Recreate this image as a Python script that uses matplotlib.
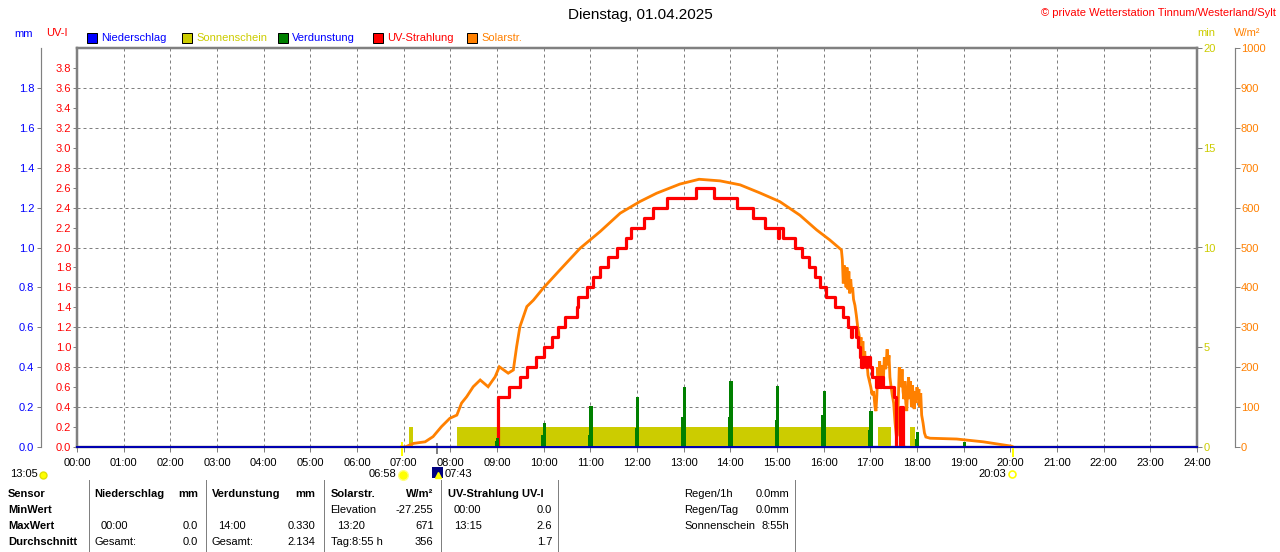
import matplotlib
matplotlib.use('Agg')
import matplotlib.pyplot as plt
import matplotlib.transforms as mtransforms
from matplotlib.patches import Rectangle
import numpy as np

plt.rcParams['font.family'] = ['Liberation Sans', 'DejaVu Sans']
plt.rcParams['font.size'] = 8

# ---------------------------------------------------------------------------
# Data (hours of the day)
# ---------------------------------------------------------------------------
hours = np.arange(0, 25)
hour_labels = [f'{h:02d}:00' for h in hours]

# UV index (step curve, value valid from time onwards)
uv_t = [9.00, 9.02, 9.26, 9.49, 9.65, 9.84, 10.00, 10.17, 10.31, 10.46, 10.72, 10.74,
        10.92, 11.06, 11.21, 11.38, 11.58, 11.76, 11.88, 12.14, 12.35, 12.65, 13.26,
        13.64, 14.15, 14.49, 14.74, 15.02, 15.05, 15.13, 15.38, 15.53, 15.69, 15.81,
        15.93, 16.06, 16.24, 16.41, 16.53, 16.58, 16.61, 16.69, 16.74, 16.78, 16.81,
        16.84, 16.90, 16.93, 16.99, 17.03, 17.13, 17.16, 17.20, 17.23, 17.28, 17.50,
        17.56, 17.64, 17.70, 17.72]
uv_v = [0.0, 0.5, 0.6, 0.7, 0.8, 0.9, 1.0, 1.1, 1.2, 1.3, 1.4, 1.5,
        1.6, 1.7, 1.8, 1.9, 2.0, 2.1, 2.2, 2.3, 2.4, 2.5, 2.6,
        2.5, 2.4, 2.3, 2.2, 2.1, 2.2, 2.1, 2.0, 1.9, 1.8, 1.7,
        1.6, 1.5, 1.4, 1.3, 1.2, 1.1, 1.2, 1.1, 1.0, 0.9, 0.8,
        0.9, 0.8, 0.9, 0.8, 0.7, 0.6, 0.7, 0.6, 0.7, 0.6, 0.5,
        0.0, 0.4, 0.0, 0.0]

# Solar radiation W/m2
sol_t = [6.95, 7.03, 7.21, 7.46, 7.63, 7.81, 7.99, 8.14, 8.24, 8.35, 8.49, 8.64, 8.81,
         8.96, 9.05, 9.24, 9.35, 9.42, 9.49, 9.64, 9.78, 9.99, 10.35, 10.78, 11.21,
         11.64, 12.06, 12.42, 12.92, 13.33, 13.78, 14.21, 14.63, 15.06, 15.49, 15.85,
         16.13, 16.38, 16.40, 16.42, 16.44, 16.46, 16.48, 16.50, 16.52, 16.54, 16.56,
         16.58, 16.60, 16.62, 16.64, 16.67, 16.70, 16.73, 16.76, 16.78, 16.80, 16.82,
         16.84, 16.86, 16.88, 16.90, 16.92, 16.95, 16.98, 17.01, 17.04, 17.07, 17.10,
         17.12, 17.14, 17.16, 17.18, 17.20, 17.22, 17.25, 17.28, 17.30, 17.33, 17.36,
         17.38, 17.40, 17.42, 17.44, 17.47, 17.50, 17.53, 17.56, 17.58, 17.60, 17.62,
         17.64, 17.66, 17.68, 17.70, 17.72, 17.74, 17.76, 17.78, 17.80, 17.82, 17.84,
         17.86, 17.88, 17.90, 17.92, 17.94, 17.96, 17.98, 18.00, 18.02, 18.04, 18.06,
         18.08, 18.10, 18.13, 18.16, 18.19, 18.28, 18.85, 19.42, 20.03, 20.06]
sol_w = [0, 0, 9, 13, 26, 51, 72, 80, 110, 126, 151, 168, 151,
         176, 201, 185, 193, 251, 301, 352, 368, 398, 444, 498, 540,
         586, 615, 636, 659, 671, 667, 657, 637, 615, 581, 544,
         519, 494, 470, 410, 455, 430, 400, 450, 395, 440, 385,
         420, 390, 400, 370, 355, 330, 300, 280, 250, 275, 225,
         265, 215, 240, 200, 225, 180, 165, 150, 130, 140, 100,
         90, 130, 200, 170, 215, 175, 205, 170, 225, 195, 245,
         205, 230, 175, 155, 130, 110, 60, 25, 30, 120, 200,
         185, 150, 195, 140, 120, 165, 110, 90, 145, 175, 120,
         165, 100, 155, 130, 95, 140, 110, 150, 120, 145, 100,
         135, 80, 60, 35, 25, 22, 20, 13, 2, 0]

# Sunshine minutes (blocks)
sun_start = [7.12, 8.15, 17.17, 17.62, 17.86]
sun_end = [7.19, 16.98, 17.44, 17.66, 17.96]
sun_min = [1.0, 1.0, 1.0, 1.0, 1.0]

# Evaporation mm (hourly spikes)
evap_t = np.arange(9, 20)
evap_peak = [0.045, 0.12, 0.205, 0.25, 0.30, 0.33, 0.305, 0.28, 0.18, 0.077, 0.025]
evap_shoulder = [0.03, 0.06, 0.06, 0.095, 0.15, 0.15, 0.135, 0.16, 0.085, 0.04, 0.0]

# Precipitation mm
rain_t = [0, 24]
rain_v = [0.0, 0.0]

GRAY = '#808080'
YEL = '#CCCC00'
ORA = '#FF8000'
RED = '#FF0000'
BLUE = '#0000FF'
GREEN = '#008000'
PT = 0.72  # one pixel in points

# ---------------------------------------------------------------------------
fig = plt.figure(figsize=(12.8, 5.52), dpi=100)
fig.patch.set_facecolor('white')

L, B, W, H = 77 / 1280, 1 - 447 / 552, 1120 / 1280, 399 / 552
ax = fig.add_axes([L, B, W, H])
ax_sun = ax.twinx()
ax_sol = ax.twinx()
ax_uv = ax.twinx()
ax_mm = ax.twinx()

# base axes: grid, UV scale
ax.set_xlim(0, 24)
ax.set_ylim(0, 4.0)
ax.set_xticks(hours)
ax.set_xticklabels(hour_labels)
ax.set_yticks(np.arange(0, 3.7, 0.4))
ax.set_yticks(np.arange(0.2, 3.9, 0.4), minor=True)
fmt = matplotlib.ticker.FuncFormatter(lambda v, p: f'{v:.1f}')
ax.yaxis.set_major_formatter(fmt)
ax.yaxis.set_minor_formatter(fmt)
ax.tick_params(axis='y', which='both', colors=GRAY, labelcolor=RED, length=4.5 * PT,
               width=PT, pad=1, labelsize=8)
ax.tick_params(axis='x', colors=GRAY, labelcolor='black', length=5 * PT, width=PT,
               pad=4.5, labelsize=8)
ax.grid(True, which='major', color=GRAY, linestyle=(0, (3, 3)), linewidth=PT)
for s in ax.spines.values():
    s.set_color(GRAY)
    s.set_linewidth(2.5 * PT)

# sunshine minutes axis (right, on frame)
ax_sun.set_ylim(0, 20)
ax_sun.set_yticks([0, 5, 10, 15, 20])
ax_sun.tick_params(axis='y', colors=GRAY, labelcolor=YEL, length=5 * PT, width=PT,
                   pad=1, labelsize=8)
ax_sun.bar(sun_start, sun_min, width=np.array(sun_end) - np.array(sun_start),
           align='edge', color=YEL, linewidth=0)

# solar axis (right, offset)
ax_sol.set_ylim(0, 1000)
ax_sol.set_yticks(np.arange(0, 1001, 100))
ax_sol.spines['right'].set_position(('axes', 1 + (1234.5 - 1197) / 1120))
ax_sol.spines['right'].set_color(GRAY)
ax_sol.spines['right'].set_linewidth(1.2 * PT)
ax_sol.tick_params(axis='y', colors=GRAY, labelcolor=ORA, length=5 * PT, width=PT,
                   pad=1, labelsize=8)
ax_sol.plot(sol_t, sol_w, color=ORA, linewidth=2.8 * PT, solid_joinstyle='miter')

# UV line
ax_uv.set_ylim(0, 4.0)
ax_uv.set_yticks([])
ax_uv.step(uv_t, uv_v, where='post', color=RED, linewidth=3.2 * PT)

# mm axis (left, offset)
ax_mm.set_ylim(0, 2.0)
ax_mm.set_yticks(np.arange(0, 1.9, 0.2))
ax_mm.yaxis.set_major_formatter(fmt)
ax_mm.yaxis.tick_left()
ax_mm.spines['left'].set_position(('axes', (40.7 - 77) / 1120))
ax_mm.spines['left'].set_visible(True)
ax_mm.spines['left'].set_color(GRAY)
ax_mm.spines['left'].set_linewidth(1.2 * PT)
ax_mm.tick_params(axis='y', colors=GRAY, labelcolor=BLUE, length=4.5 * PT, width=PT,
                  pad=1.5, labelsize=8)
ax_mm.bar(evap_t - 0.05, evap_shoulder, width=0.065, align='edge', color=GREEN,
          linewidth=0)
ax_mm.bar(evap_t - 0.02, evap_peak, width=0.07, align='edge', color=GREEN, linewidth=0)
ax_mm.plot(rain_t, rain_v, color='#0000B0', linewidth=2 * PT, clip_on=False)

for a in (ax_sun, ax_sol, ax_uv, ax_mm):
    a.patch.set_visible(False)
    for name, s in a.spines.items():
        if not ((a is ax_sol and name == 'right') or (a is ax_mm and name == 'left')):
            s.set_visible(False)

# sunrise / sunset markers below the axis
trans = mtransforms.blended_transform_factory(ax.transData, ax.transAxes)
ax.plot([6.967, 6.967], [4 / 399, -8 / 399], color='#FFFF00', lw=2 * PT,
        transform=trans, clip_on=False, zorder=5)
ax.plot([7.717, 7.717], [3 / 399, -6 / 399], color=GRAY, lw=2 * PT,
        transform=trans, clip_on=False, zorder=5)
ax.plot([20.05, 20.05], [0, -9 / 399], color='#FFFF00', lw=2 * PT,
        transform=trans, clip_on=False, zorder=5)

# ---------------------------------------------------------------------------
# decoration layer in pixel coordinates
deco = fig.add_axes([0, 0, 1, 1])
deco.set_xlim(0, 1280)
deco.set_ylim(552, 0)
deco.axis('off')
deco.patch.set_visible(False)

deco.text(640, 15, 'Dienstag, 01.04.2025', fontsize=11, ha='center', va='center')
deco.text(1276, 12.5, '\u00a9 private Wetterstation Tinnum/Westerland/Sylt', color=RED,
          fontsize=8, ha='right', va='center')
deco.text(14, 34, 'mm', color=BLUE, va='center')
deco.text(46, 33, 'UV-I', color=RED, va='center')
deco.text(1197, 33, 'min', color=YEL, va='center')
deco.text(1234, 33, 'W/m\u00b2', color=ORA, va='center')

legend_items = [(87, BLUE, 'Niederschlag', BLUE), (182, YEL, 'Sonnenschein', YEL),
                (277.5, GREEN, 'Verdunstung', BLUE), (372.5, RED, 'UV-Strahlung', RED),
                (467, ORA, 'Solarstr.', ORA)]
for x0, fc, label, tc in legend_items:
    deco.add_patch(Rectangle((x0, 32.5), 10, 10, facecolor=fc, edgecolor='black',
                             linewidth=PT))
    deco.text(x0 + 14.5, 38, label, color=tc, va='center')

# sun times below x axis
deco.text(10, 474, '13:05', va='center')
deco.plot([43], [475], marker='o', ms=5, color='#FFFF00', mec='#E0E000')
deco.text(369, 474, '06:58', va='center')
deco.plot([403], [475], marker='o', ms=7, color='#FFFF00', mec='#FFFF80')
deco.add_patch(Rectangle((432, 467), 11, 11, facecolor='#000080', edgecolor='none'))
deco.plot([437.5], [475], marker='^', ms=4, color='#FFFF00')
deco.text(445, 474, '07:43', va='center')
deco.text(1006.5, 474, '20:03', va='center', ha='right')
deco.plot([1012], [474], marker='o', ms=5, mfc='white', mec='#FFFF00', mew=1.2)

# summary table
for xs in (88.6, 205.5, 323.7, 440.8, 558.4, 795):
    deco.plot([xs, xs], [480, 552], color=GRAY, lw=PT)

rows = [494, 510, 526, 542]
for y, lab in zip(rows, ['Sensor', 'MinWert', 'MaxWert', 'Durchschnitt']):
    deco.text(8, y, lab, fontweight='bold', va='center')

cells = [
    (94.7, rows[0], 'Niederschlag', 'left', True), (198, rows[0], 'mm', 'right', True),
    (101, rows[2], '00:00', 'left', False), (198, rows[2], '0.0', 'right', False),
    (94.7, rows[3], 'Gesamt:', 'left', False), (198, rows[3], '0.0', 'right', False),
    (212, rows[0], 'Verdunstung', 'left', True), (315.5, rows[0], 'mm', 'right', True),
    (218, rows[2], '14:00', 'left', False), (315.5, rows[2], '0.330', 'right', False),
    (212, rows[3], 'Gesamt:', 'left', False), (315.5, rows[3], '2.134', 'right', False),
    (330.6, rows[0], 'Solarstr.', 'left', True), (433.5, rows[0], 'W/m\u00b2', 'right', True),
    (330.6, rows[1], 'Elevation', 'left', False), (433.5, rows[1], '-27.255', 'right', False),
    (336.7, rows[2], '13:20', 'left', False), (433.5, rows[2], '671', 'right', False),
    (330.6, rows[3], 'Tag:8:55 h', 'left', False), (433.5, rows[3], '356', 'right', False),
    (448, rows[0], 'UV-Strahlung UV-I', 'left', True),
    (454, rows[1], '00:00', 'left', False), (552, rows[1], '0.0', 'right', False),
    (454, rows[2], '13:15', 'left', False), (552, rows[2], '2.6', 'right', False),
    (552, rows[3], '1.7', 'right', False),
    (684, rows[0], 'Regen/1h', 'left', False), (789, rows[0], '0.0mm', 'right', False),
    (684, rows[1], 'Regen/Tag', 'left', False), (789, rows[1], '0.0mm', 'right', False),
    (684, rows[2], 'Sonnenschein', 'left', False), (789, rows[2], '8:55h', 'right', False),
]
for x, y, txt, ha, bold in cells:
    deco.text(x, y, txt, ha=ha, va='center', fontweight='bold' if bold else 'normal')

fig.savefig('out.png', dpi=100, facecolor='white')
plt.close(fig)
